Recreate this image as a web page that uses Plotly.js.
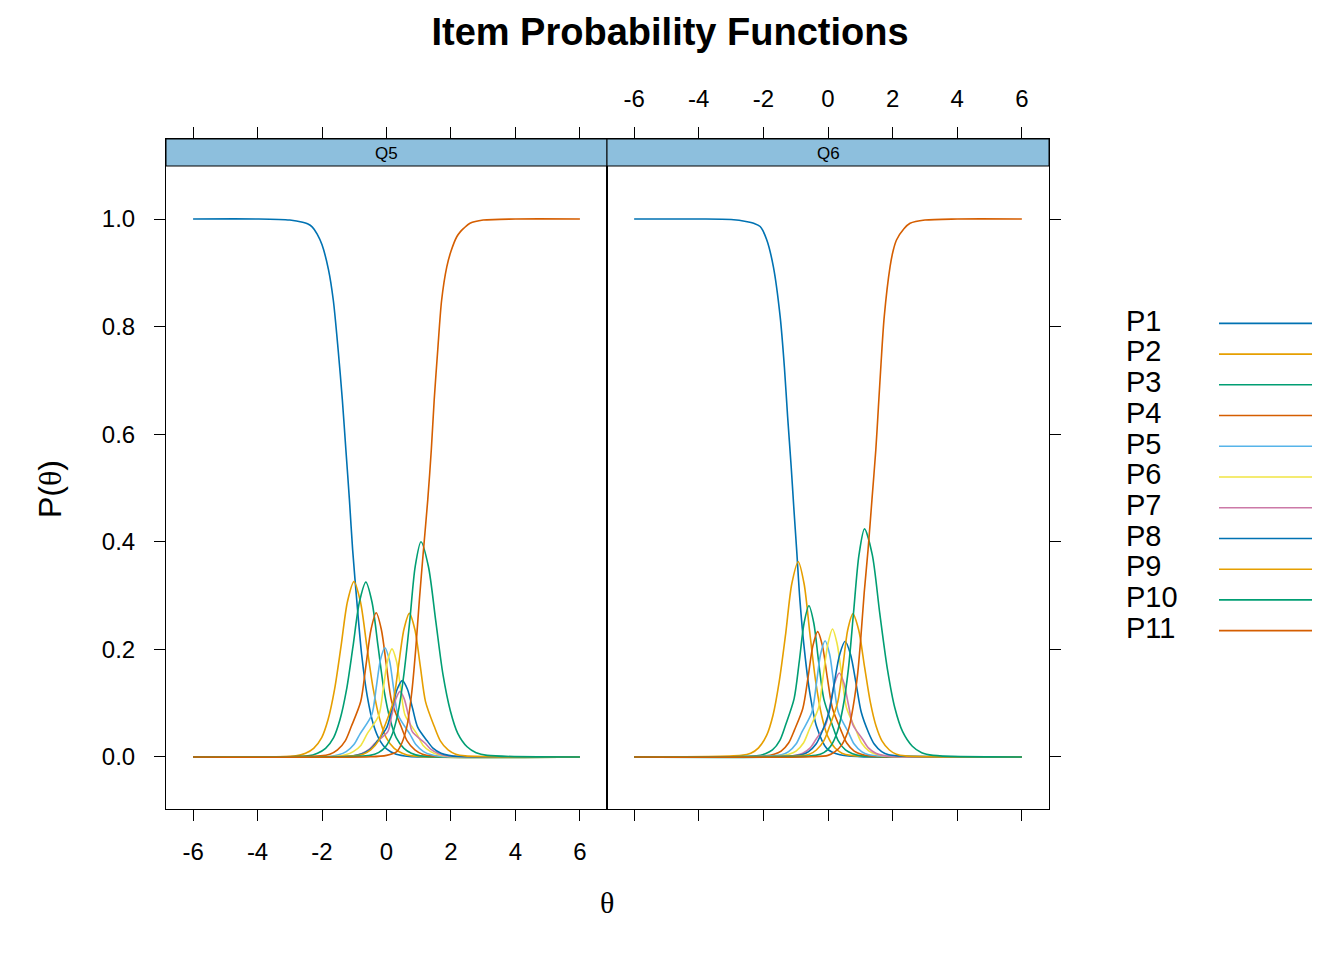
<!DOCTYPE html>
<html>
<head>
<meta charset="utf-8">
<script src="https://cdn.plot.ly/plotly-3.0.1.min.js"></script>
<style>html,body{margin:0;padding:0;background:#fff;}#chart{width:1344px;height:960px;}</style>
</head>
<body>
<div id="chart"></div>
<script>
// ---------- data ----------
const categories = ['P1','P2','P3','P4','P5','P6','P7','P8','P9','P10','P11'];
const panels = ['Q5','Q6'];
const xTicks = [-6,-4,-2,0,2,4,6];
const yTicks = [0,0.2,0.4,0.6,0.8,1.0];
const yTickLabels = ['0.0','0.2','0.4','0.6','0.8','1.0'];
const colors = ['#0072B2','#E69F00','#009E73','#D55E00','#56B4E9','#F0E442','#CC79A7','#0072B2','#E69F00','#009E73','#D55E00'];

// Q5
const q5_P1_theta = [-6,-4,-3,-2.6,-2.45,-2.3,-2.15,-2.0,-1.8,-1.65,-1.5,-1.37,-1.26,-1.15,-1.05,-0.9,-0.77,-0.6,-0.4,-0.2,0,0.3,0.7,1.2,6];
const q5_P1_prob  = [1,1,0.998,0.994,0.991,0.985,0.972,0.952,0.906,0.849,0.757,0.664,0.571,0.478,0.385,0.275,0.19,0.114,0.059,0.03,0.015,0.005,0.001,0,0];
const q5_P2_theta = [-6,-2.81,-2.51,-2.26,-2.01,-1.81,-1.61,-1.41,-1.21,-1.01,-0.81,-0.61,-0.41,-0.21,-0.01,0.24,0.49,0.79,6];
const q5_P2_prob  = [0,0.002,0.007,0.016,0.036,0.070,0.126,0.206,0.289,0.326,0.289,0.206,0.126,0.070,0.036,0.016,0.007,0.002,0];
const q5_P3_theta = [-6,-2.44,-2.14,-1.89,-1.64,-1.44,-1.24,-1.04,-0.84,-0.64,-0.45,-0.26,-0.08,0.11,0.30,0.54,0.77,1.05,6];
const q5_P3_prob  = [0,0.002,0.007,0.016,0.036,0.070,0.125,0.205,0.288,0.325,0.288,0.205,0.125,0.070,0.036,0.016,0.007,0.002,0];
const q5_P4_theta = [-6,-2.05,-1.76,-1.52,-1.28,-1.09,-0.80,-0.64,-0.48,-0.32,-0.16,0.00,0.16,0.45,0.64,0.88,1.12,1.41,6];
const q5_P4_prob  = [0,0.002,0.005,0.013,0.030,0.057,0.103,0.169,0.237,0.268,0.237,0.169,0.103,0.057,0.030,0.013,0.005,0.002,0];
const q5_P5_theta = [-6,-1.78,-1.49,-1.25,-1.01,-0.82,-0.46,-0.32,-0.19,-0.05,0.09,0.22,0.36,0.72,0.91,1.15,1.39,1.68,6];
const q5_P5_prob  = [0,0.001,0.004,0.010,0.023,0.043,0.078,0.128,0.180,0.203,0.180,0.128,0.078,0.043,0.023,0.010,0.004,0.001,0];
const q5_P6_theta = [-6,-1.56,-1.27,-1.03,-0.79,-0.60,-0.24,-0.10,0.03,0.17,0.31,0.44,0.58,0.94,1.13,1.37,1.61,1.90,6];
const q5_P6_prob  = [0,0.001,0.004,0.010,0.022,0.043,0.077,0.127,0.178,0.201,0.178,0.127,0.077,0.043,0.022,0.010,0.004,0.001,0];
const q5_P7_theta = [-6,-1.31,-1.02,-0.78,-0.54,-0.35,0.04,0.16,0.29,0.42,0.55,0.68,0.80,1.19,1.38,1.62,1.86,2.15,6];
const q5_P7_prob  = [0,0.001,0.002,0.006,0.014,0.026,0.047,0.077,0.108,0.122,0.108,0.077,0.047,0.026,0.014,0.006,0.002,0.001,0];
const q5_P8_theta = [-6,-1.24,-0.95,-0.71,-0.47,-0.28,0.01,0.17,0.33,0.49,0.65,0.81,0.97,1.26,1.45,1.69,1.93,2.22,6];
const q5_P8_prob  = [0,0.001,0.003,0.007,0.016,0.030,0.055,0.090,0.126,0.142,0.126,0.090,0.055,0.030,0.016,0.007,0.003,0.001,0];
const q5_P9_theta = [-6,-1.02,-0.73,-0.49,-0.25,-0.06,0.21,0.37,0.54,0.71,0.88,1.05,1.21,1.48,1.67,1.91,2.15,2.44,6];
const q5_P9_prob  = [0,0.002,0.005,0.013,0.030,0.057,0.103,0.168,0.237,0.267,0.237,0.168,0.103,0.057,0.030,0.013,0.005,0.002,0];
const q5_P10_theta = [-6,-0.51,-0.25,-0.03,0.19,0.37,0.54,0.72,0.89,1.07,1.30,1.53,1.75,1.98,2.21,2.50,2.78,3.12,6];
const q5_P10_prob  = [0,0.003,0.008,0.019,0.044,0.086,0.154,0.252,0.354,0.400,0.354,0.252,0.154,0.086,0.044,0.019,0.008,0.003,0];
const q5_P11_theta = [-6,-0.5,0,0.32,0.47,0.63,0.78,0.905,1.02,1.14,1.28,1.39,1.48,1.59,1.71,1.87,2.0,2.18,2.3,2.4,2.59,3.0,4,6];
const q5_P11_prob  = [0,0.0004,0.003,0.010,0.025,0.056,0.118,0.199,0.292,0.38,0.478,0.571,0.664,0.757,0.849,0.911,0.940,0.967,0.977,0.983,0.992,0.998,1,1];

// Q6
const q6_P1_theta = [-6,-4,-3,-2.5,-2.3,-2.1,-1.9,-1.69,-1.48,-1.35,-1.25,-1.14,-1.06,-0.97,-0.87,-0.73,-0.56,-0.35,-0.04,0.37,1.0,6];
const q6_P1_prob  = [1,1,0.999,0.995,0.992,0.986,0.962,0.911,0.818,0.725,0.633,0.540,0.465,0.385,0.292,0.199,0.118,0.056,0.016,0.004,0.0005,0];
const q6_P2_theta = [-6,-2.68,-2.39,-2.15,-1.90,-1.70,-1.51,-1.31,-1.12,-0.92,-0.74,-0.56,-0.38,-0.20,-0.02,0.21,0.43,0.70,6];
const q6_P2_prob  = [0,0.003,0.007,0.017,0.040,0.078,0.140,0.229,0.322,0.363,0.322,0.229,0.140,0.078,0.040,0.017,0.007,0.003,0];
const q6_P3_theta = [-6,-2.21,-1.94,-1.72,-1.49,-1.31,-1.05,-0.89,-0.74,-0.59,-0.44,-0.29,-0.13,0.13,0.31,0.54,0.76,1.03,6];
const q6_P3_prob  = [0,0.002,0.006,0.013,0.031,0.060,0.108,0.177,0.249,0.281,0.249,0.177,0.108,0.060,0.031,0.013,0.006,0.002,0];
const q6_P4_theta = [-6,-1.94,-1.67,-1.45,-1.22,-1.04,-0.78,-0.62,-0.47,-0.32,-0.17,-0.02,0.14,0.40,0.58,0.81,1.03,1.30,6];
const q6_P4_prob  = [0,0.002,0.005,0.011,0.026,0.050,0.090,0.147,0.206,0.233,0.206,0.147,0.090,0.050,0.026,0.011,0.005,0.002,0];
const q6_P5_theta = [-6,-1.71,-1.44,-1.22,-0.99,-0.81,-0.50,-0.36,-0.23,-0.09,0.05,0.18,0.32,0.63,0.81,1.04,1.26,1.53,6];
const q6_P5_prob  = [0,0.002,0.004,0.010,0.024,0.046,0.083,0.136,0.191,0.216,0.191,0.136,0.083,0.046,0.024,0.010,0.004,0.002,0];
const q6_P6_theta = [-6,-1.48,-1.21,-0.99,-0.76,-0.58,-0.29,-0.15,0.00,0.14,0.28,0.43,0.57,0.86,1.04,1.27,1.49,1.76,6];
const q6_P6_prob  = [0,0.002,0.005,0.011,0.026,0.051,0.092,0.150,0.211,0.238,0.211,0.150,0.092,0.051,0.026,0.011,0.005,0.002,0];
const q6_P7_theta = [-6,-1.27,-1.00,-0.78,-0.55,-0.37,-0.07,0.07,0.21,0.35,0.49,0.63,0.77,1.07,1.25,1.48,1.70,1.97,6];
const q6_P7_prob  = [0,0.001,0.003,0.007,0.017,0.033,0.060,0.098,0.138,0.156,0.138,0.098,0.060,0.033,0.017,0.007,0.003,0.001,0];
const q6_P8_theta = [-6,-1.09,-0.82,-0.60,-0.37,-0.19,0.03,0.19,0.36,0.53,0.70,0.87,1.03,1.25,1.43,1.66,1.88,2.15,6];
const q6_P8_prob  = [0,0.002,0.004,0.010,0.024,0.046,0.083,0.136,0.190,0.215,0.190,0.136,0.083,0.046,0.024,0.010,0.004,0.002,0];
const q6_P9_theta = [-6,-0.85,-0.58,-0.36,-0.13,0.05,0.30,0.46,0.61,0.77,0.95,1.13,1.31,1.49,1.67,1.90,2.12,2.39,6];
const q6_P9_prob  = [0,0.002,0.005,0.013,0.030,0.057,0.102,0.168,0.236,0.266,0.236,0.168,0.102,0.057,0.030,0.013,0.005,0.002,0];
const q6_P10_theta = [-6,-0.38,-0.13,0.08,0.29,0.46,0.63,0.79,0.96,1.13,1.37,1.60,1.84,2.07,2.31,2.61,2.90,3.25,6];
const q6_P10_prob  = [0,0.003,0.008,0.020,0.047,0.091,0.163,0.268,0.376,0.424,0.376,0.268,0.163,0.091,0.047,0.020,0.008,0.003,0];
const q6_P11_theta = [-6,-0.5,0,0.22,0.42,0.63,0.78,0.92,1.02,1.12,1.24,1.36,1.48,1.56,1.64,1.74,1.92,2.02,2.12,2.35,2.54,3.0,4,6];
const q6_P11_prob  = [0,0.0005,0.003,0.010,0.022,0.050,0.094,0.156,0.225,0.305,0.385,0.478,0.571,0.650,0.730,0.818,0.911,0.942,0.961,0.982,0.992,0.998,1,1];

// ---------- assemble ----------
const panelData = {
  Q5: {
    theta: [q5_P1_theta,q5_P2_theta,q5_P3_theta,q5_P4_theta,q5_P5_theta,q5_P6_theta,q5_P7_theta,q5_P8_theta,q5_P9_theta,q5_P10_theta,q5_P11_theta],
    prob:  [q5_P1_prob,q5_P2_prob,q5_P3_prob,q5_P4_prob,q5_P5_prob,q5_P6_prob,q5_P7_prob,q5_P8_prob,q5_P9_prob,q5_P10_prob,q5_P11_prob]
  },
  Q6: {
    theta: [q6_P1_theta,q6_P2_theta,q6_P3_theta,q6_P4_theta,q6_P5_theta,q6_P6_theta,q6_P7_theta,q6_P8_theta,q6_P9_theta,q6_P10_theta,q6_P11_theta],
    prob:  [q6_P1_prob,q6_P2_prob,q6_P3_prob,q6_P4_prob,q6_P5_prob,q6_P6_prob,q6_P7_prob,q6_P8_prob,q6_P9_prob,q6_P10_prob,q6_P11_prob]
  }
};

const W = 1344, H = 960;
const FONT = 'Liberation Sans, Arial, Helvetica, sans-serif';
const SERIF = 'Liberation Serif, DejaVu Serif, serif';

const traces = [];
panels.forEach((p, pi) => {
  const ax = pi === 0 ? '' : '2';
  categories.forEach((c, ci) => {
    traces.push({
      type: 'scatter', mode: 'lines',
      x: panelData[p].theta[ci], y: panelData[p].prob[ci],
      xaxis: 'x' + ax, yaxis: 'y' + ax,
      line: {color: colors[ci], width: 1.6, shape: 'spline', smoothing: 0.8},
      name: c, hoverinfo: 'skip'
    });
  });
});

// legend key (text left, line sample right) drawn on its own hidden axes
traces.push({
  type: 'scatter', mode: 'text', x: categories.map(() => 0), y: categories,
  text: categories, textposition: 'middle right',
  textfont: {family: FONT, size: 29, color: '#000'},
  xaxis: 'x3', yaxis: 'y3', hoverinfo: 'skip'
});
categories.forEach((c, ci) => {
  traces.push({
    type: 'scatter', mode: 'lines', x: [0.5, 1], y: [c, c],
    line: {color: colors[ci], width: 1.6},
    xaxis: 'x3', yaxis: 'y3', hoverinfo: 'skip'
  });
});

const xRange = [-6.84, 6.84];
const yRange = [-0.0967, 1.1487];
const yDomain = [151 / H, 821 / H];

const commonX = {
  range: xRange, tickvals: xTicks, ticktext: xTicks.map(String),
  ticks: 'outside', ticklen: 11, tickwidth: 1, tickcolor: '#000',
  showline: true, linecolor: '#000', linewidth: 1, mirror: 'ticks',
  showgrid: false, zeroline: false, fixedrange: true,
  ticklabelstandoff: 10,
  tickfont: {family: FONT, size: 24, color: '#000'}
};
const commonY = {
  range: yRange, domain: yDomain, tickvals: yTicks, ticktext: yTickLabels,
  ticks: 'outside', ticklen: 11, tickwidth: 1, tickcolor: '#000',
  showline: true, linecolor: '#000', linewidth: 1, mirror: true,
  showgrid: false, zeroline: false, fixedrange: true,
  ticklabelstandoff: 14,
  tickfont: {family: FONT, size: 24, color: '#000'}
};

const layout = {
  width: W, height: H,
  margin: {l: 0, r: 0, t: 0, b: 0},
  paper_bgcolor: '#fff', plot_bgcolor: '#fff',
  showlegend: false,
  font: {family: FONT, color: '#000'},
  title: {
    text: '<b>Item Probability Functions</b>',
    font: {family: FONT, size: 38, color: '#000'},
    x: 670 / W, xanchor: 'center', y: 1 - 32 / H, yanchor: 'middle', xref: 'paper', yref: 'paper'
  },
  xaxis: Object.assign({}, commonX, {domain: [166 / W, 607 / W], anchor: 'y', side: 'bottom'}),
  yaxis: Object.assign({}, commonY, {anchor: 'x', side: 'left'}),
  xaxis2: Object.assign({}, commonX, {domain: [607 / W, 1049 / W], anchor: 'y2', side: 'top'}),
  yaxis2: Object.assign({}, commonY, {anchor: 'x2', side: 'right', showticklabels: false}),
  xaxis3: {domain: [1126 / W, 1312 / W], range: [0, 1], visible: false, anchor: 'y3', fixedrange: true},
  yaxis3: {domain: [(H - 646) / H, (H - 308) / H], type: 'category', categoryorder: 'array',
           categoryarray: categories, range: [10.5, -0.5], visible: false, anchor: 'x3', fixedrange: true},
  shapes: panels.map((p, pi) => ({
    type: 'rect', xref: (pi === 0 ? 'x' : 'x2') + ' domain', yref: 'paper',
    x0: 0, x1: 1, y0: (H - 166) / H, y1: (H - 139) / H,
    fillcolor: '#8DBFDD', line: {color: '#000', width: 1}, layer: 'above'
  })),
  annotations: panels.map((p, pi) => ({
    text: p, xref: (pi === 0 ? 'x' : 'x2') + ' domain', yref: 'paper',
    x: 0.5, y: (H - 153) / H, xanchor: 'center', yanchor: 'middle', showarrow: false,
    font: {family: FONT, size: 17, color: '#000'}
  })).concat([
    {text: 'P(<span style="font-family:' + SERIF + '">θ</span>)', xref: 'paper', yref: 'paper',
     x: 50 / W, y: 1 - 489 / H, xanchor: 'center', yanchor: 'middle', textangle: -90, showarrow: false,
     font: {family: FONT, size: 32, color: '#000'}},
    {text: 'θ', xref: 'paper', yref: 'paper', x: 607 / W, y: 1 - 902 / H,
     xanchor: 'center', yanchor: 'middle', showarrow: false,
     font: {family: SERIF, size: 30, color: '#000'}}
  ])
};

Plotly.newPlot('chart', traces, layout, {displayModeBar: false, staticPlot: true});
</script>
</body>
</html>
